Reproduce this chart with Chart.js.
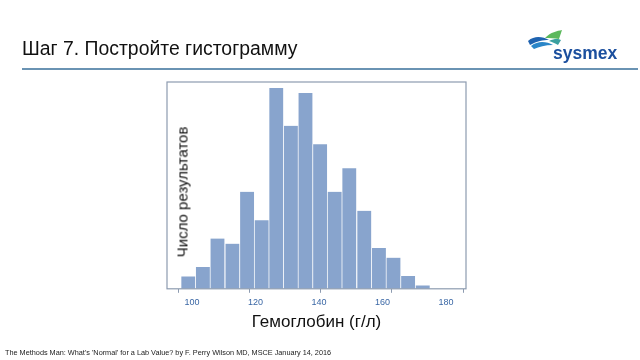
<!DOCTYPE html>
<html>
<head>
<meta charset="utf-8">
<script src="https://cdn.jsdelivr.net/npm/chart.js@4"></script>
<style>
  html, body { margin:0; padding:0; background:#fff; }
  #wrap { position:relative; width:640px; height:360px; overflow:hidden; font-family:"Liberation Sans", Arial, sans-serif; }
  #title { position:absolute; left:22px; top:37px; font-size:19.4px; color:#111; white-space:nowrap; }
  #rule { position:absolute; left:22px; top:68px; width:616px; height:2px; background:#6a93b3; }
  #logo { position:absolute; left:525px; top:26px; }
  #foot { position:absolute; left:5px; top:348px; font-size:7.3px; color:#222; white-space:nowrap; }
  #ytitle { position:absolute; left:182px; top:192px; font-size:15px; color:#111; white-space:nowrap;
            transform:translate(-50%,-50%) rotate(-90deg); }
  #cv { position:absolute; left:0; top:0; }
</style>
</head>
<body>
<div id="wrap">
  <canvas id="cv" width="640" height="360"></canvas>
  <div id="title">Шаг 7. Постройте гистограмму</div>
  <div id="rule"></div>
  <svg id="logo" width="100" height="40" viewBox="0 0 100 40">
    <path d="M3 15 C10 9 18 11 24 14 C18 14 12 15 5 19 Z" fill="#1f63b0"/>
    <path d="M6 20 C14 14 22 16 28 19 C20 19 14 21 9 23 Z" fill="#2a86c8"/>
    <path d="M20 12 C26 6 32 5 37 4 L34 13 C29 12 24 12 20 12 Z" fill="#5cb85c"/>
    <path d="M24 15 C30 12 34 13 36 14 L33 19 C30 17 27 16 24 15 Z" fill="#3aa0a0"/>
    <text x="28" y="33" font-family="Liberation Sans, Arial, sans-serif" font-weight="bold" font-size="17.5" fill="#1b4f9e">sysmex</text>
  </svg>
  <div id="ytitle">Число результатов</div>
  <div id="foot">The Methods Man: What's 'Normal' for a Lab Value? by F. Perry Wilson MD, MSCE January 14, 2016</div>
</div>
<script>
// Bin centres (g/l) and counts
const binCentres = [102.8, 106.9, 111.0, 115.2, 119.3, 123.4, 127.5, 131.6, 135.7, 139.8, 143.9, 148.0, 152.2, 156.3, 160.4, 164.5, 168.6];
const counts     = [3.7, 6.5, 15.0, 13.5, 29.0, 20.5, 60.0, 48.7, 58.5, 43.2, 29.0, 36.0, 23.3, 12.2, 9.3, 3.8, 1.0];
const xTickValues = [100, 120, 140, 160, 180];
const xAxisTitle = 'Гемоглобин (г/л)';

const frame = {
  id: 'frame',
  afterDatasetsDraw(chart) {
    const a = chart.chartArea, c = chart.ctx;
    c.save();
    c.strokeStyle = '#8d9bb0';
    c.lineWidth = 1.2;
    c.strokeRect(a.left, a.top, a.right - a.left, a.bottom - a.top);
    c.restore();
  }
};

new Chart(document.getElementById('cv'), {
  type: 'bar',
  data: {
    datasets: [{
      data: binCentres.map((x, i) => ({ x: x, y: counts[i] })),
      backgroundColor: '#88a4cd',
      borderColor: 'rgba(255,255,255,0.35)',
      borderWidth: { left: 1, right: 0, top: 0, bottom: 0 },
      barPercentage: 1,
      categoryPercentage: 1,
      xAxisID: 'x',
      yAxisID: 'y'
    }]
  },
  plugins: [frame],
  options: {
    responsive: false,
    animation: false,
    events: [],
    layout: { padding: { left: 167, right: 174, top: 82, bottom: 27 } },
    plugins: { legend: { display: false }, tooltip: { enabled: false } },
    scales: {
      y: { display: false, min: 0, max: 61.8 },
      x: {
        type: 'linear', position: 'bottom', weight: 0,
        min: 96.91, max: 180.84, offset: false,
        afterBuildTicks: s => { s.ticks = xTickValues.map(v => ({ value: v })); },
        grid: { drawOnChartArea: false, drawTicks: true, tickLength: 4, color: '#8d9bb0', offset: false },
        border: { display: false },
        ticks: { display: false }
      },
      x2: {
        type: 'linear', position: 'bottom', weight: 1,
        min: 92.13, max: 186.3, offset: false,
        afterBuildTicks: s => { s.ticks = xTickValues.map(v => ({ value: v })); },
        grid: { display: false, drawTicks: false },
        border: { display: false },
        ticks: { color: '#3a67a5', font: { family: 'Liberation Sans', size: 9 }, padding: 4, maxRotation: 0 },
        title: { display: true, text: xAxisTitle, color: '#111', font: { family: 'Liberation Sans', size: 17 }, padding: { top: 1, bottom: 0 } }
      }
    }
  }
});
</script>
</body>
</html>
